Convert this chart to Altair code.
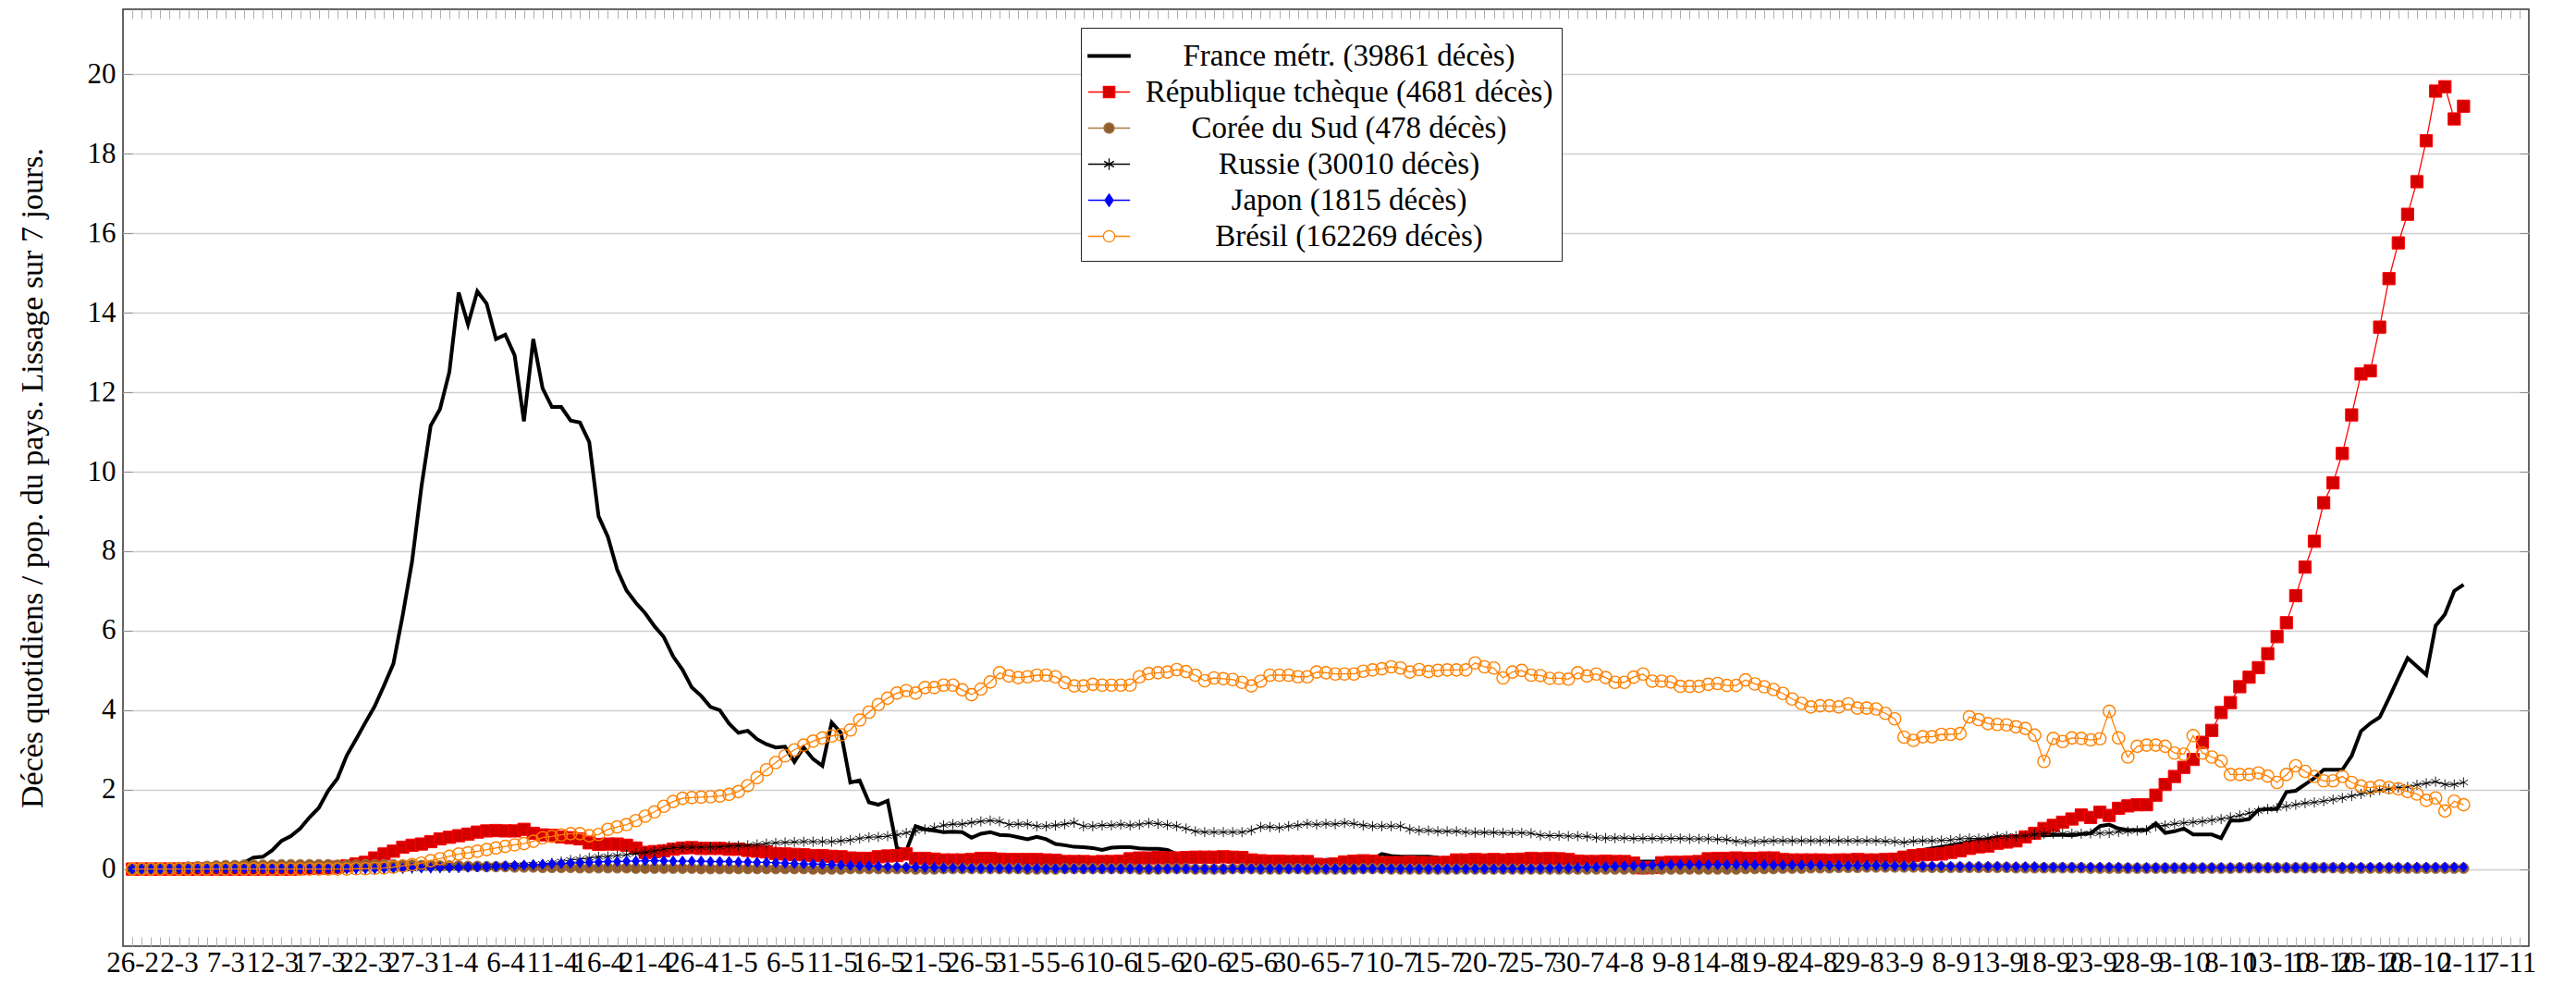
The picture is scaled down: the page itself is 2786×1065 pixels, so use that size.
import altair as alt
import pandas as pd

# ---------------- data (one value per day, starting 26-2-2020) ----------------
FRANCE = [
    0.00, 0.00, 0.00, 0.00, 0.01, 0.01, 0.02, 0.03, 0.04, 0.05,
    0.06, 0.10, 0.16, 0.29, 0.31, 0.47, 0.71, 0.83, 1.02, 1.30,
    1.54, 1.97, 2.28, 2.86, 3.27, 3.69, 4.10, 4.62, 5.17, 6.39,
    7.74, 9.61, 11.16, 11.58, 12.51, 14.51, 13.71, 14.54, 14.23, 13.34,
    13.45, 12.93, 11.27, 13.34, 12.10, 11.63, 11.63, 11.29, 11.24, 10.75,
    8.88, 8.36, 7.53, 7.01, 6.70, 6.44, 6.11, 5.84, 5.35, 5.02,
    4.57, 4.36, 4.08, 4.00, 3.66, 3.43, 3.48, 3.27, 3.14, 3.06,
    3.08, 2.70, 3.06, 2.77, 2.60, 3.69, 3.43, 2.18, 2.23, 1.68,
    1.62, 1.72, 0.53, 0.46, 1.08, 1.00, 0.97, 0.93, 0.94, 0.93,
    0.79, 0.89, 0.93, 0.86, 0.85, 0.80, 0.75, 0.81, 0.75, 0.63,
    0.60, 0.56, 0.55, 0.53, 0.48, 0.54, 0.55, 0.55, 0.52, 0.51,
    0.51, 0.48, 0.38, 0.34, 0.33, 0.33, 0.33, 0.31, 0.31, 0.27,
    0.27, 0.27, 0.25, 0.25, 0.25, 0.23, 0.21, 0.18, 0.23, 0.25,
    0.25, 0.25, 0.25, 0.25, 0.38, 0.33, 0.31, 0.31, 0.31, 0.31,
    0.29, 0.22, 0.20, 0.19, 0.19, 0.18, 0.18, 0.17, 0.17, 0.17,
    0.16, 0.16, 0.16, 0.16, 0.17, 0.17, 0.17, 0.18, 0.18, 0.18,
    0.18, 0.18, 0.19, 0.19, 0.19, 0.20, 0.21, 0.22, 0.23, 0.24,
    0.25, 0.26, 0.26, 0.27, 0.28, 0.29, 0.30, 0.31, 0.30, 0.29,
    0.28, 0.28, 0.28, 0.28, 0.28, 0.28, 0.28, 0.30, 0.33, 0.36,
    0.40, 0.44, 0.48, 0.52, 0.56, 0.60, 0.64, 0.68, 0.72, 0.76,
    0.80, 0.81, 0.82, 0.84, 0.85, 0.85, 0.86, 0.86, 0.85, 0.88,
    0.90, 1.08, 1.12, 1.02, 0.98, 0.98, 0.98, 1.15, 0.91, 0.95,
    1.02, 0.87, 0.87, 0.87, 0.78, 1.22, 1.22, 1.26, 1.49, 1.51,
    1.51, 1.94, 1.97, 2.13, 2.29, 2.50, 2.50, 2.50, 2.85, 3.47,
    3.67, 3.82, 4.30, 4.81, 5.31, 5.10, 4.89, 6.12, 6.41, 7.00,
    7.16,
]

CZECHIA = [
    0.00, 0.00, 0.00, 0.00, 0.00, 0.00, 0.00, 0.00, 0.00, 0.00,
    0.00, 0.00, 0.00, 0.00, 0.00, 0.00, 0.00, 0.00, 0.01, 0.02,
    0.03, 0.03, 0.05, 0.08, 0.13, 0.17, 0.28, 0.38, 0.45, 0.55,
    0.60, 0.63, 0.69, 0.76, 0.80, 0.84, 0.88, 0.93, 0.96, 0.97,
    0.96, 0.96, 1.00, 0.90, 0.86, 0.85, 0.81, 0.79, 0.76, 0.66,
    0.62, 0.63, 0.63, 0.60, 0.53, 0.42, 0.44, 0.46, 0.50, 0.53,
    0.54, 0.52, 0.52, 0.52, 0.50, 0.50, 0.47, 0.45, 0.43, 0.39,
    0.38, 0.37, 0.36, 0.34, 0.34, 0.32, 0.31, 0.28, 0.27, 0.27,
    0.31, 0.33, 0.34, 0.38, 0.27, 0.27, 0.25, 0.23, 0.23, 0.23,
    0.24, 0.27, 0.27, 0.25, 0.24, 0.24, 0.24, 0.24, 0.23, 0.22,
    0.19, 0.19, 0.19, 0.18, 0.19, 0.19, 0.20, 0.26, 0.28, 0.28,
    0.29, 0.28, 0.28, 0.29, 0.30, 0.30, 0.30, 0.31, 0.30, 0.29,
    0.23, 0.21, 0.20, 0.20, 0.19, 0.19, 0.19, 0.12, 0.10, 0.13,
    0.18, 0.20, 0.21, 0.20, 0.16, 0.16, 0.16, 0.17, 0.16, 0.16,
    0.16, 0.17, 0.23, 0.23, 0.24, 0.23, 0.24, 0.23, 0.24, 0.25,
    0.27, 0.26, 0.27, 0.26, 0.24, 0.20, 0.19, 0.19, 0.20, 0.19,
    0.19, 0.15, 0.03, 0.04, 0.16, 0.17, 0.17, 0.18, 0.19, 0.26,
    0.27, 0.27, 0.28, 0.27, 0.27, 0.28, 0.28, 0.24, 0.23, 0.23,
    0.23, 0.23, 0.22, 0.23, 0.23, 0.24, 0.23, 0.23, 0.24, 0.25,
    0.30, 0.34, 0.36, 0.37, 0.38, 0.42, 0.46, 0.52, 0.56, 0.58,
    0.65, 0.68, 0.71, 0.81, 0.90, 1.02, 1.10, 1.18, 1.26, 1.36,
    1.30, 1.43, 1.35, 1.53, 1.59, 1.62, 1.62, 1.86, 2.13, 2.33,
    2.56, 2.76, 3.19, 3.49, 3.94, 4.19, 4.59, 4.83, 5.07, 5.42,
    5.85, 6.20, 6.88, 7.60, 8.25, 9.22, 9.72, 10.46, 11.43, 12.46,
    12.54, 13.64, 14.86, 15.76, 16.48, 17.30, 18.33, 19.58, 19.69, 18.88,
    19.20,
]

KOREA = [
    0.00, 0.01, 0.01, 0.02, 0.03, 0.04, 0.05, 0.06, 0.07, 0.08,
    0.09, 0.09, 0.10, 0.10, 0.10, 0.10, 0.11, 0.11, 0.11, 0.11,
    0.11, 0.11, 0.10, 0.10, 0.10, 0.11, 0.11, 0.11, 0.11, 0.10,
    0.10, 0.09, 0.09, 0.08, 0.08, 0.08, 0.07, 0.07, 0.06, 0.06,
    0.06, 0.05, 0.05, 0.05, 0.04, 0.04, 0.04, 0.04, 0.03, 0.03,
    0.03, 0.03, 0.03, 0.03, 0.02, 0.02, 0.02, 0.02, 0.02, 0.02,
    0.02, 0.01, 0.01, 0.01, 0.01, 0.01, 0.01, 0.01, 0.01, 0.01,
    0.01, 0.01, 0.01, 0.00, 0.00, 0.00, 0.00, 0.01, 0.01, 0.01,
    0.01, 0.01, 0.01, 0.01, 0.00, 0.00, 0.00, 0.01, 0.01, 0.01,
    0.01, 0.01, 0.01, 0.01, 0.01, 0.01, 0.00, 0.00, 0.00, 0.00,
    0.01, 0.01, 0.01, 0.01, 0.01, 0.01, 0.01, 0.01, 0.00, 0.00,
    0.00, 0.01, 0.01, 0.01, 0.00, 0.00, 0.00, 0.00, 0.01, 0.01,
    0.01, 0.00, 0.00, 0.00, 0.01, 0.01, 0.00, 0.00, 0.00, 0.00,
    0.00, 0.00, 0.01, 0.01, 0.01, 0.00, 0.00, 0.00, 0.00, 0.00,
    0.00, 0.00, 0.00, 0.00, 0.00, 0.00, 0.00, 0.00, 0.00, 0.00,
    0.00, 0.00, 0.00, 0.00, 0.00, 0.00, 0.00, 0.00, 0.00, 0.00,
    0.00, 0.00, 0.00, 0.00, 0.00, 0.00, 0.00, 0.00, 0.00, 0.00,
    0.00, 0.00, 0.00, 0.01, 0.01, 0.01, 0.01, 0.02, 0.02, 0.02,
    0.03, 0.03, 0.03, 0.04, 0.04, 0.04, 0.05, 0.05, 0.05, 0.05,
    0.05, 0.05, 0.05, 0.04, 0.04, 0.04, 0.04, 0.04, 0.04, 0.04,
    0.04, 0.04, 0.03, 0.03, 0.03, 0.03, 0.03, 0.03, 0.03, 0.03,
    0.02, 0.02, 0.02, 0.02, 0.02, 0.02, 0.02, 0.02, 0.02, 0.02,
    0.02, 0.02, 0.02, 0.02, 0.02, 0.02, 0.03, 0.03, 0.03, 0.03,
    0.03, 0.03, 0.03, 0.03, 0.03, 0.03, 0.03, 0.02, 0.02, 0.02,
    0.02, 0.02, 0.02, 0.02, 0.02, 0.02, 0.02, 0.02, 0.02, 0.02,
    0.02,
]

RUSSIA = [
    0.00, 0.00, 0.00, 0.00, 0.00, 0.00, 0.00, 0.00, 0.00, 0.00,
    0.00, 0.00, 0.00, 0.00, 0.00, 0.00, 0.00, 0.00, 0.00, 0.00,
    0.00, 0.00, 0.00, 0.00, 0.00, 0.00, 0.00, 0.01, 0.01, 0.01,
    0.01, 0.02, 0.02, 0.02, 0.03, 0.03, 0.04, 0.05, 0.06, 0.07,
    0.08, 0.09, 0.10, 0.11, 0.13, 0.16, 0.19, 0.23, 0.25, 0.28,
    0.31, 0.32, 0.34, 0.36, 0.39, 0.42, 0.45, 0.50, 0.54, 0.55,
    0.55, 0.55, 0.55, 0.56, 0.58, 0.59, 0.60, 0.62, 0.64, 0.66,
    0.67, 0.68, 0.69, 0.69, 0.69, 0.69, 0.71, 0.73, 0.77, 0.80,
    0.81, 0.83, 0.86, 0.91, 0.96, 1.00, 1.04, 1.10, 1.13, 1.13,
    1.17, 1.20, 1.22, 1.20, 1.12, 1.13, 1.13, 1.08, 1.08, 1.10,
    1.13, 1.17, 1.08, 1.08, 1.10, 1.10, 1.12, 1.10, 1.12, 1.16,
    1.14, 1.11, 1.08, 1.02, 0.95, 0.93, 0.93, 0.93, 0.93, 0.93,
    0.97, 1.06, 1.06, 1.04, 1.08, 1.10, 1.14, 1.12, 1.14, 1.13,
    1.16, 1.14, 1.10, 1.08, 1.08, 1.08, 1.08, 1.00, 0.97, 0.97,
    0.95, 0.95, 0.95, 0.93, 0.92, 0.92, 0.92, 0.91, 0.91, 0.91,
    0.90, 0.85, 0.84, 0.84, 0.83, 0.83, 0.82, 0.79, 0.78, 0.78,
    0.78, 0.77, 0.77, 0.77, 0.77, 0.77, 0.77, 0.76, 0.76, 0.76,
    0.75, 0.74, 0.70, 0.69, 0.69, 0.70, 0.71, 0.71, 0.71, 0.71,
    0.71, 0.71, 0.71, 0.71, 0.71, 0.71, 0.71, 0.71, 0.70, 0.69,
    0.67, 0.70, 0.71, 0.71, 0.72, 0.73, 0.76, 0.77, 0.77, 0.78,
    0.82, 0.83, 0.83, 0.84, 0.87, 0.89, 0.89, 0.89, 0.89, 0.89,
    0.90, 0.90, 0.91, 0.94, 0.95, 0.97, 0.98, 1.08, 1.10, 1.14,
    1.16, 1.18, 1.20, 1.23, 1.26, 1.30, 1.35, 1.41, 1.46, 1.51,
    1.54, 1.58, 1.62, 1.66, 1.68, 1.71, 1.75, 1.79, 1.84, 1.89,
    1.93, 1.99, 2.02, 2.05, 2.07, 2.12, 2.16, 2.20, 2.13, 2.13,
    2.18,
]

JAPAN = [
    0.00, 0.00, 0.00, 0.00, 0.01, 0.01, 0.01, 0.01, 0.01, 0.01,
    0.01, 0.01, 0.01, 0.01, 0.01, 0.01, 0.01, 0.01, 0.01, 0.01,
    0.01, 0.01, 0.01, 0.01, 0.01, 0.01, 0.01, 0.02, 0.02, 0.02,
    0.03, 0.03, 0.03, 0.04, 0.04, 0.04, 0.05, 0.05, 0.06, 0.07,
    0.08, 0.09, 0.10, 0.11, 0.12, 0.13, 0.14, 0.15, 0.16, 0.17,
    0.18, 0.19, 0.19, 0.20, 0.20, 0.21, 0.21, 0.21, 0.20, 0.20,
    0.20, 0.20, 0.19, 0.19, 0.19, 0.18, 0.18, 0.17, 0.17, 0.16,
    0.15, 0.14, 0.13, 0.13, 0.12, 0.11, 0.10, 0.09, 0.08, 0.08,
    0.07, 0.06, 0.06, 0.05, 0.05, 0.04, 0.04, 0.03, 0.03, 0.03,
    0.02, 0.02, 0.02, 0.02, 0.02, 0.02, 0.02, 0.02, 0.01, 0.01,
    0.01, 0.01, 0.01, 0.01, 0.01, 0.01, 0.01, 0.01, 0.01, 0.01,
    0.01, 0.01, 0.01, 0.01, 0.01, 0.01, 0.01, 0.01, 0.01, 0.01,
    0.01, 0.01, 0.01, 0.01, 0.01, 0.01, 0.01, 0.01, 0.01, 0.01,
    0.01, 0.01, 0.01, 0.01, 0.01, 0.01, 0.01, 0.01, 0.01, 0.01,
    0.01, 0.01, 0.01, 0.01, 0.01, 0.01, 0.01, 0.01, 0.01, 0.01,
    0.01, 0.02, 0.02, 0.03, 0.03, 0.04, 0.05, 0.05, 0.06, 0.07,
    0.08, 0.08, 0.09, 0.10, 0.10, 0.11, 0.11, 0.11, 0.11, 0.11,
    0.11, 0.11, 0.11, 0.11, 0.11, 0.11, 0.10, 0.10, 0.10, 0.10,
    0.10, 0.10, 0.09, 0.09, 0.09, 0.09, 0.09, 0.09, 0.09, 0.08,
    0.08, 0.08, 0.08, 0.08, 0.08, 0.07, 0.07, 0.07, 0.07, 0.07,
    0.07, 0.06, 0.06, 0.06, 0.06, 0.05, 0.05, 0.05, 0.05, 0.05,
    0.05, 0.05, 0.05, 0.05, 0.04, 0.04, 0.04, 0.04, 0.04, 0.04,
    0.04, 0.04, 0.04, 0.04, 0.04, 0.04, 0.04, 0.04, 0.04, 0.04,
    0.04, 0.04, 0.04, 0.04, 0.04, 0.04, 0.04, 0.05, 0.05, 0.05,
    0.05, 0.05, 0.05, 0.05, 0.05, 0.05, 0.05, 0.05, 0.05, 0.05,
    0.05,
]

BRAZIL = [
    0.00, 0.00, 0.00, 0.00, 0.00, 0.00, 0.00, 0.00, 0.00, 0.00,
    0.00, 0.00, 0.00, 0.00, 0.00, 0.00, 0.00, 0.00, 0.00, 0.00,
    0.00, 0.00, 0.00, 0.00, 0.01, 0.01, 0.02, 0.03, 0.05, 0.08,
    0.11, 0.15, 0.21, 0.26, 0.32, 0.38, 0.41, 0.45, 0.49, 0.53,
    0.57, 0.61, 0.64, 0.70, 0.79, 0.82, 0.86, 0.89, 0.89, 0.84,
    0.87, 1.00, 1.06, 1.12, 1.22, 1.33, 1.44, 1.58, 1.70, 1.78,
    1.80, 1.81, 1.82, 1.84, 1.88, 1.95, 2.10, 2.30, 2.50, 2.68,
    2.85, 3.00, 3.12, 3.22, 3.30, 3.35, 3.38, 3.50, 3.75, 3.95,
    4.14, 4.30, 4.43, 4.49, 4.43, 4.57, 4.57, 4.63, 4.63, 4.51,
    4.39, 4.53, 4.71, 4.94, 4.86, 4.82, 4.84, 4.88, 4.88, 4.84,
    4.69, 4.61, 4.61, 4.65, 4.63, 4.63, 4.63, 4.63, 4.84, 4.92,
    4.94, 4.96, 5.02, 4.97, 4.88, 4.74, 4.81, 4.79, 4.77, 4.70,
    4.61, 4.73, 4.88, 4.88, 4.88, 4.84, 4.84, 4.96, 4.94, 4.91,
    4.91, 4.91, 4.98, 5.01, 5.04, 5.09, 5.06, 4.96, 5.02, 4.97,
    5.00, 5.01, 5.01, 5.01, 5.19, 5.09, 5.06, 4.81, 4.96, 5.00,
    4.88, 4.87, 4.80, 4.80, 4.78, 4.94, 4.86, 4.91, 4.82, 4.70,
    4.70, 4.83, 4.91, 4.73, 4.73, 4.71, 4.60, 4.60, 4.60, 4.65,
    4.67, 4.62, 4.62, 4.76, 4.66, 4.59, 4.52, 4.42, 4.28, 4.17,
    4.08, 4.11, 4.11, 4.08, 4.16, 4.05, 4.05, 4.03, 3.92, 3.78,
    3.32, 3.24, 3.33, 3.33, 3.39, 3.39, 3.41, 3.83, 3.76, 3.66,
    3.64, 3.63, 3.58, 3.54, 3.37, 2.71, 3.29, 3.21, 3.30, 3.29,
    3.25, 3.28, 3.97, 3.30, 2.82, 3.09, 3.12, 3.12, 3.09, 2.92,
    2.89, 3.36, 2.92, 2.82, 2.72, 2.38, 2.38, 2.38, 2.42, 2.34,
    2.18, 2.38, 2.60, 2.46, 2.33, 2.22, 2.22, 2.33, 2.18, 2.09,
    2.05, 2.09, 2.05, 2.02, 1.95, 1.89, 1.73, 1.79, 1.46, 1.71,
    1.62,
]

SERIES = [
    "France métr. (39861 décès)",
    "République tchèque (4681 décès)",
    "Corée du Sud (478 décès)",
    "Russie (30010 décès)",
    "Japon (1815 décès)",
    "Brésil (162269 décès)",
]

TICK_LABELS = [
    "26-2", "2-3", "7-3", "12-3", "17-3", "22-3", "27-3", "1-4", "6-4", "11-4",
    "16-4", "21-4", "26-4", "1-5", "6-5", "11-5", "16-5", "21-5", "26-5", "31-5",
    "5-6", "10-6", "15-6", "20-6", "25-6", "30-6", "5-7", "10-7", "15-7", "20-7",
    "25-7", "30-7", "4-8", "9-8", "14-8", "19-8", "24-8", "29-8", "3-9", "8-9",
    "13-9", "18-9", "23-9", "28-9", "3-10", "8-10", "13-10", "18-10", "23-10", "28-10",
    "2-11", "7-11",
]
Y_TICKS = [0, 2, 4, 6, 8, 10, 12, 14, 16, 18, 20]
Y_TITLE = "Décès quotidiens / pop. du pays. Lissage sur 7 jours."

for arr in (FRANCE, CZECHIA, KOREA, RUSSIA, JAPAN, BRAZIL):
    assert len(arr) == 251, len(arr)

# ---------------- styles ----------------
FONT = "Liberation Serif"
W, H = 2602, 1013
XDOM = [-1, 257]
YDOM = [-1.94, 21.64]

LINE_COL = ["#000000", "#ff0000", "#a87845", "#000000", "#0000ff", "#ff8000"]
FILL_COL = ["#000000", "#d40000", "#8f5c30", "transparent", "#0000ff", "#ffffff"]
STAR = "M0,-1L0,1M-0.87,-0.5L0.87,0.5M-0.87,0.5L0.87,-0.5"
DIAMOND = "M0,-1L0.72,0L0,1L-0.72,0Z"
LEG_SHAPES = [
    "M-1.1,-0.07L1.1,-0.07L1.1,0.07L-1.1,0.07Z",
    "M-1.1,0L-0.3,0M0.3,0L1.1,0M-0.3,-0.3L0.3,-0.3L0.3,0.3L-0.3,0.3Z",
    "M-1.1,0L-0.27,0M0.27,0L1.1,0M-0.27,0A0.27,0.27,0,1,1,0.27,0A0.27,0.27,0,1,1,-0.27,0Z",
    "M-1.1,0L1.1,0M0,-0.3L0,0.3M-0.26,-0.15L0.26,0.15M-0.26,0.15L0.26,-0.15",
    "M-1.1,0L-0.22,0M0.22,0L1.1,0M0,-0.32L0.22,0L0,0.32L-0.22,0Z",
    "M-1.1,0L-0.3,0M0.3,0L1.1,0M-0.3,0A0.3,0.3,0,1,1,0.3,0A0.3,0.3,0,1,1,-0.3,0Z",
]


def frame(vals, name):
    return pd.DataFrame({"d": list(range(len(vals))), "v": vals, "s": name})


dfs = [frame(a, n) for a, n in zip((FRANCE, CZECHIA, KOREA, RUSSIA, JAPAN, BRAZIL), SERIES)]

xscale = alt.Scale(domain=XDOM, nice=False, zero=False)
yscale = alt.Scale(domain=YDOM, nice=False, zero=False)

label_js = "[" + ",".join("'%s'" % t for t in TICK_LABELS) + "][round(datum.value/5)]"

AX_X_LABELS = alt.Axis(orient="bottom", values=[5 * i for i in range(len(TICK_LABELS))],
                       labelExpr=label_js, ticks=False, domain=False, grid=False,
                       labelFont=FONT, labelFontSize=31, labelColor="black", labelPadding=3,
                       labelOverlap=False, labelFlush=False, labelBound=False, title=None)
AX_Y_LABELS = alt.Axis(orient="left", values=Y_TICKS, format="d", ticks=False, domain=False,
                       grid=True, gridColor="#cfcfcf", gridWidth=1.4,
                       labelFont=FONT, labelFontSize=31, labelColor="black", labelPadding=8,
                       title=Y_TITLE, titleFont=FONT, titleFontSize=34, titleFontWeight="normal",
                       titleColor="black", titlePadding=42)
DAYS = list(range(0, 257))
AX_X_TOP = alt.Axis(orient="top", values=DAYS, labels=False, ticks=True, tickSize=10,
                    tickColor="#b0b0b0", tickWidth=1, domain=False, grid=False, offset=-10, title=None)
AX_X_BOT = alt.Axis(orient="bottom", values=DAYS, labels=False, ticks=True, tickSize=10,
                    tickColor="#b0b0b0", tickWidth=1, domain=False, grid=False, offset=-10, title=None)
AX_Y_LEFT = alt.Axis(orient="left", values=Y_TICKS, labels=False, ticks=True, tickSize=10,
                     tickColor="#909090", tickWidth=1, domain=False, grid=False, offset=-10, title=None)
AX_Y_RIGHT = alt.Axis(orient="right", values=Y_TICKS, labels=False, ticks=True, tickSize=10,
                      tickColor="#909090", tickWidth=1, domain=False, grid=False, offset=-10, title=None)


def enc(chart, xax=None, yax=None):
    return chart.encode(
        x=alt.X("d:Q", scale=xscale, axis=xax),
        y=alt.Y("v:Q", scale=yscale, axis=yax),
    )


layers = []
# France : thick black line
layers.append(enc(alt.Chart(dfs[0]).mark_line(color="black", strokeWidth=4), AX_X_LABELS, AX_Y_LABELS))
# Czech
layers.append(enc(alt.Chart(dfs[1]).mark_line(color="#ff0000", strokeWidth=1.3), AX_X_TOP, AX_Y_LEFT))
layers.append(enc(alt.Chart(dfs[1]).mark_point(shape="square", size=175, filled=True, fill="#d40000",
                                              stroke="#ff0000", strokeWidth=1, opacity=1),
                  AX_X_BOT, AX_Y_RIGHT))
# Korea
layers.append(enc(alt.Chart(dfs[2]).mark_line(color="#a87845", strokeWidth=1.3)))
layers.append(enc(alt.Chart(dfs[2]).mark_point(shape="circle", size=130, filled=True, fill="#8f5c30",
                                              stroke="#a87845", strokeWidth=1, opacity=1)))
# Russia
layers.append(enc(alt.Chart(dfs[3]).mark_line(color="black", strokeWidth=1.1)))
layers.append(enc(alt.Chart(dfs[3]).mark_point(shape=STAR, size=120, filled=False,
                                              stroke="#000000", strokeWidth=0.9, opacity=1)))
# Japan
layers.append(enc(alt.Chart(dfs[4]).mark_line(color="#0000ff", strokeWidth=1.3)))
layers.append(enc(alt.Chart(dfs[4]).mark_point(shape=DIAMOND, size=120, filled=True, fill="#0000ff",
                                              stroke="#0000ff", strokeWidth=1, opacity=1)))
# Brazil
layers.append(enc(alt.Chart(dfs[5]).mark_line(color="#ff8000", strokeWidth=1.3)))
layers.append(enc(alt.Chart(dfs[5]).mark_point(shape="circle", size=175, filled=False,
                                              stroke="#ff8000", strokeWidth=1.4, opacity=1)))

# legend (built from the series names only; draws no data marks)
LEG = alt.Legend(orient="none", legendX=1036, legendY=20, direction="vertical", title=None,
                 labelFont=FONT, labelFontSize=33, labelColor="black", labelAlign="center",
                 labelOffset=238, labelLimit=1000, symbolSize=1700, symbolStrokeWidth=1.3,
                 fillColor="white", strokeColor="#222222", padding=9, rowPadding=0,
                 symbolOpacity=1)
legend_layer = alt.Chart(pd.concat(dfs)).transform_filter("false").mark_point(opacity=1).encode(
    shape=alt.Shape("s:N", scale=alt.Scale(domain=SERIES, range=LEG_SHAPES), legend=LEG),
    fill=alt.Fill("s:N", scale=alt.Scale(domain=SERIES, range=FILL_COL), legend=LEG),
    stroke=alt.Stroke("s:N", scale=alt.Scale(domain=SERIES, range=LINE_COL), legend=LEG),
)
layers.append(legend_layer)

chart = alt.layer(*layers).resolve_axis(x="independent", y="independent").properties(
    width=W, height=H,
    autosize=alt.AutoSizeParams(type="none"),
    padding={"left": 125, "top": 2, "right": 40, "bottom": 40},
    background="white",
).configure_view(stroke="#333333", strokeWidth=1.5)

chart.save("out.html", embed_options={"renderer": "svg", "actions": False})
